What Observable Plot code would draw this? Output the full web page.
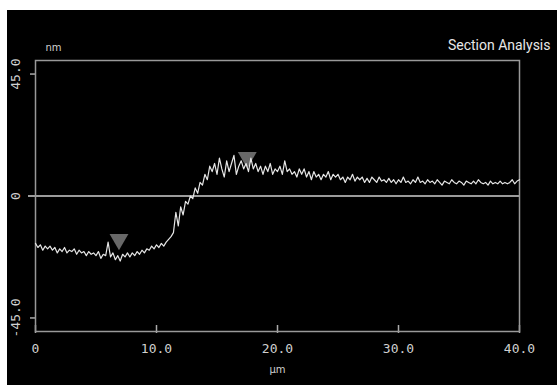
<!DOCTYPE html>
<html>
<head>
<meta charset="utf-8">
<script src="https://cdn.jsdelivr.net/npm/d3@7"></script>
<script src="https://cdn.jsdelivr.net/npm/@observablehq/plot@0.6"></script>
<style>
  html, body { margin: 0; padding: 0; background: #fff; }
  #wrap { padding: 10px 0 0 7px; width: 550px; height: 375px; }
  #chart svg { background: #000; display: block; }
</style>
</head>
<body>
<div id="wrap"><div id="chart"></div></div>
<script>
// Section profile, x step 0.2 µm from 0 to 40 µm, height in nm
const xStep = 0.2;
const heights = [
  -17.5,-19,-18,-20,-18.5,
  -19.5,-18.5,-20,-19,-21,
  -19.5,-20.5,-19,-21,-20,
  -20.5,-19.5,-21.5,-20,-21,
  -20.5,-22,-20.5,-21.5,-21,
  -22,-20.5,-23,-21.5,-22,
  -17,-22.5,-21,-23.5,-22,
  -24,-21.5,-22.5,-21,-22.5,
  -21,-22,-20.5,-21.5,-20,
  -21,-19.5,-20,-18.5,-19.5,
  -18,-19,-17.5,-18.5,-17,
  -16,-15,-13.5,-6,-11,
  -4,-7,-2,-3,0,
  -1,3,1,5,4,
  8,6,11,9,12,
  8,14,10,7,13,
  9,12,15,8,11,
  13,10,12,9,14,
  10,12,9,11,8,
  11,9,12,8,10,
  9,11,8,13,9,
  10,8,9,7,10,
  8,10,7,9,6,
  9,7,8,6,8,
  7,9,6,8,7,
  8,6,7,5,7,
  6,8,5.5,7,6,
  7,5,6.5,5,7,
  6,5,7,5.5,6,
  5,6.5,5,6,4.5,
  6,5,7,5,5.5,
  4.5,6,5,7,5,
  5.5,4.5,6,5,5.5,
  4.5,6,5,4,5.5,
  5,4.5,6,5,4.5,
  5.5,5,4,5.5,5,
  4.5,5.5,4.5,6,5,
  4.5,5,4,5.5,4.5,
  5,4.5,5.5,4.5,5,
  4.5,5,6,4.5,5.5,
  6
];
const markerX = [6.9, 17.5];
const markerY = [-16, 14.2];
const xTicks = [0, 10, 20, 30, 40];
const xTickLabels = ["0", "10.0", "20.0", "30.0", "40.0"];
const yTicks = [-45, 0, 45];
const yTickLabels = ["-45.0", "0", "45.0"];
const xDomain = [0, 40];
const yDomain = [-50, 50];

const profile = heights.map((h, i) => ({x: +(i * xStep).toFixed(2), y: h}));
const markers = markerX.map((x, i) => ({x, y: markerY[i]}));

const W = 550, H = 375;
const mL = 28, mT = 50, mR = 38, mB = 54;
const innerH = H - mT - mB;

const mono = "'DejaVu Sans Mono', monospace";
const sans = "'DejaVu Sans', sans-serif";

const chart = Plot.plot({
  width: W, height: H,
  marginLeft: mL, marginTop: mT, marginRight: mR, marginBottom: mB,
  x: {domain: xDomain, axis: null},
  y: {domain: yDomain, axis: null},
  style: {background: "#000", color: "#ccc"},
  marks: [
    // y tick marks (outside, left)
    Plot.ruleY([-45, 45], {y: d => d, x1: xDomain[0], x2: xDomain[0], insetLeft: -5, stroke: "#aaa", strokeWidth: 1.5}),
    // y tick labels rotated
    Plot.text(yTicks, {y: d => d, text: (d, i) => yTickLabels[i], frameAnchor: "left", dx: -20, rotate: -90, textAnchor: "middle", fill: "#d0d0d0", fontSize: 13, fontFamily: mono}),
    // x tick marks (inward)
    Plot.ruleX(xTicks, {x: d => d, insetTop: innerH - 6, insetBottom: -2, stroke: "#aaa", strokeWidth: 1.5}),
    // x tick labels
    Plot.text(xTicks, {x: d => d, text: (d, i) => xTickLabels[i], frameAnchor: "bottom", dy: 21, fill: "#d0d0d0", fontSize: 13, fontFamily: mono}),
    // zero line
    Plot.ruleY([0], {stroke: "#cfcfcf", strokeWidth: 1.6, insetLeft: -7}),
    Plot.frame({stroke: "#999", strokeWidth: 1.5}),
    // cursor markers
    Plot.dot(markers, {x: "x", y: "y", symbol: "triangle", rotate: 180, r: 7, fill: "#7a7a7a", fillOpacity: 0.85, stroke: "none"}),
    // profile
    Plot.line(profile, {x: "x", y: "y", stroke: "#e6e6e6", strokeWidth: 1.2}),
    // labels
    Plot.text(["nm"], {frameAnchor: "top-left", dx: 10, dy: -17, fill: "#cfcfcf", fontSize: 10, fontFamily: sans}),
    Plot.text(["µm"], {frameAnchor: "bottom", dy: 41, fill: "#cfcfcf", fontSize: 10, fontFamily: sans}),
    Plot.text(["Section Analysis"], {frameAnchor: "top-right", dx: 31, dy: -20, textAnchor: "end", fill: "#e8e8e8", fontSize: 14, fontFamily: "Roboto, sans-serif"})
  ]
});
document.getElementById("chart").appendChild(chart);
</script>
</body>
</html>
